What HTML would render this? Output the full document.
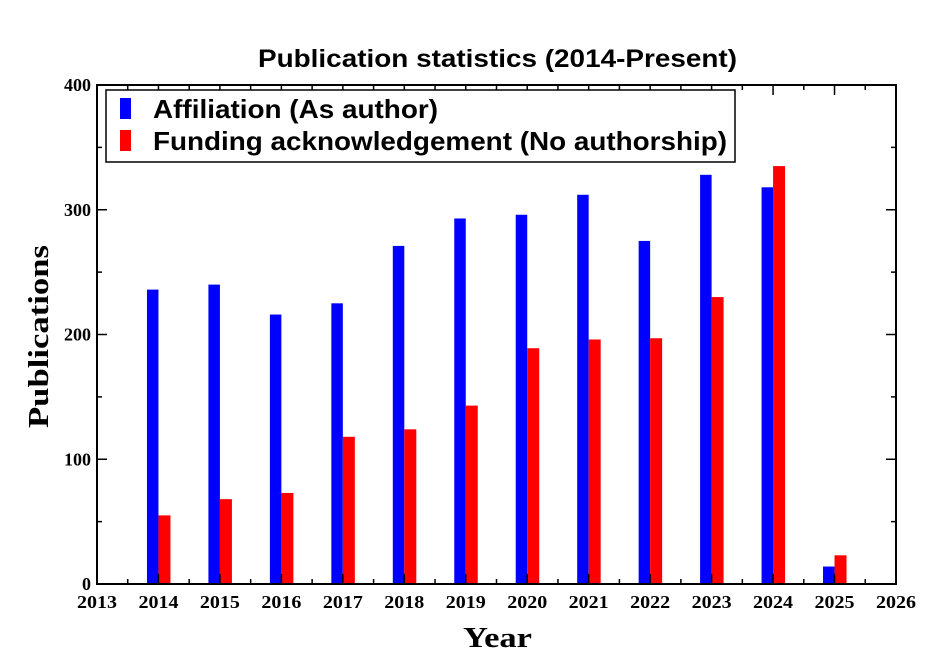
<!DOCTYPE html>
<html><head><style>body{margin:0;background:#fff}</style></head><body>
<svg width="939" height="664" xmlns="http://www.w3.org/2000/svg">
<rect width="939" height="664" fill="#fff"/>
<text x="258" y="67" textLength="479" lengthAdjust="spacingAndGlyphs" font-family="Liberation Sans, sans-serif" font-weight="bold" font-size="25">Publication statistics (2014-Present)</text>
<g id="bars"></g>
<rect x="97" y="85" width="799" height="499" fill="none" stroke="#000" stroke-width="2"/>
<g id="ticks" stroke="#000" stroke-width="1.5"></g>
<g id="lbl" font-family="Liberation Serif, serif" font-weight="bold" font-size="18"></g>
<rect x="106" y="90" width="629" height="72" fill="#fff" stroke="#000" stroke-width="1.5"/>
<rect x="120" y="98" width="11" height="21" fill="#0000ff"/>
<rect x="120" y="130" width="11" height="21" fill="#ff0000"/>
<text x="153" y="118" textLength="285" lengthAdjust="spacingAndGlyphs" font-family="Liberation Sans, sans-serif" font-weight="bold" font-size="26">Affiliation (As author)</text>
<text x="153" y="150" textLength="574" lengthAdjust="spacingAndGlyphs" font-family="Liberation Sans, sans-serif" font-weight="bold" font-size="26">Funding acknowledgement (No authorship)</text>
<text x="463" y="647" textLength="69" lengthAdjust="spacingAndGlyphs" font-family="Liberation Serif, serif" font-weight="bold" font-size="28">Year</text>
<text transform="translate(48,428) rotate(-90)" textLength="183" lengthAdjust="spacingAndGlyphs" font-family="Liberation Serif, serif" font-weight="bold" font-size="28">Publications</text>
</svg>
<script>
var ns="http://www.w3.org/2000/svg";
function el(p,t,a,txt){var e=document.createElementNS(ns,t);for(var k in a)e.setAttribute(k,a[k]);if(txt!=null)e.textContent=txt;p.appendChild(e);}
var X=function(y){return 97+(y-2013)*61.46},Y=function(v){return 584-v*1.2475};
var d=[[236,55],[240,68],[216,73],[225,118],[271,124],[293,143],[296,189],[312,196],[275,197],[328,230],[318,335],[14,23]];
var b=document.getElementById('bars');
d.forEach(function(v,i){var x=X(2014+i);
el(b,'rect',{x:x-11.5,y:Y(v[0]),width:11.5,height:584-Y(v[0]),fill:'#0000ff'});
el(b,'rect',{x:x,y:Y(v[1]),width:12,height:584-Y(v[1]),fill:'#ff0000'});});
var t=document.getElementById('ticks'),l=document.getElementById('lbl');
for(var y=2013;y<=2026;y+=0.5){var x=X(y),L=(y%1==0)?10:5;
el(t,'line',{x1:x,y1:584,x2:x,y2:584-L});el(t,'line',{x1:x,y1:85,x2:x,y2:85+L});
if(y%1==0)el(l,'text',{x:x-20,y:608,textLength:40,lengthAdjust:'spacingAndGlyphs'},y);}
for(var v=0;v<=400;v+=50){var yy=Y(v),L=(v%100==0)?10:5;
el(t,'line',{x1:97,y1:yy,x2:97+L,y2:yy});el(t,'line',{x1:896,y1:yy,x2:896-L,y2:yy});
if(v%100==0)el(l,'text',{x:91,y:yy+6,'text-anchor':'end'},v);}
</script>
</body></html>
